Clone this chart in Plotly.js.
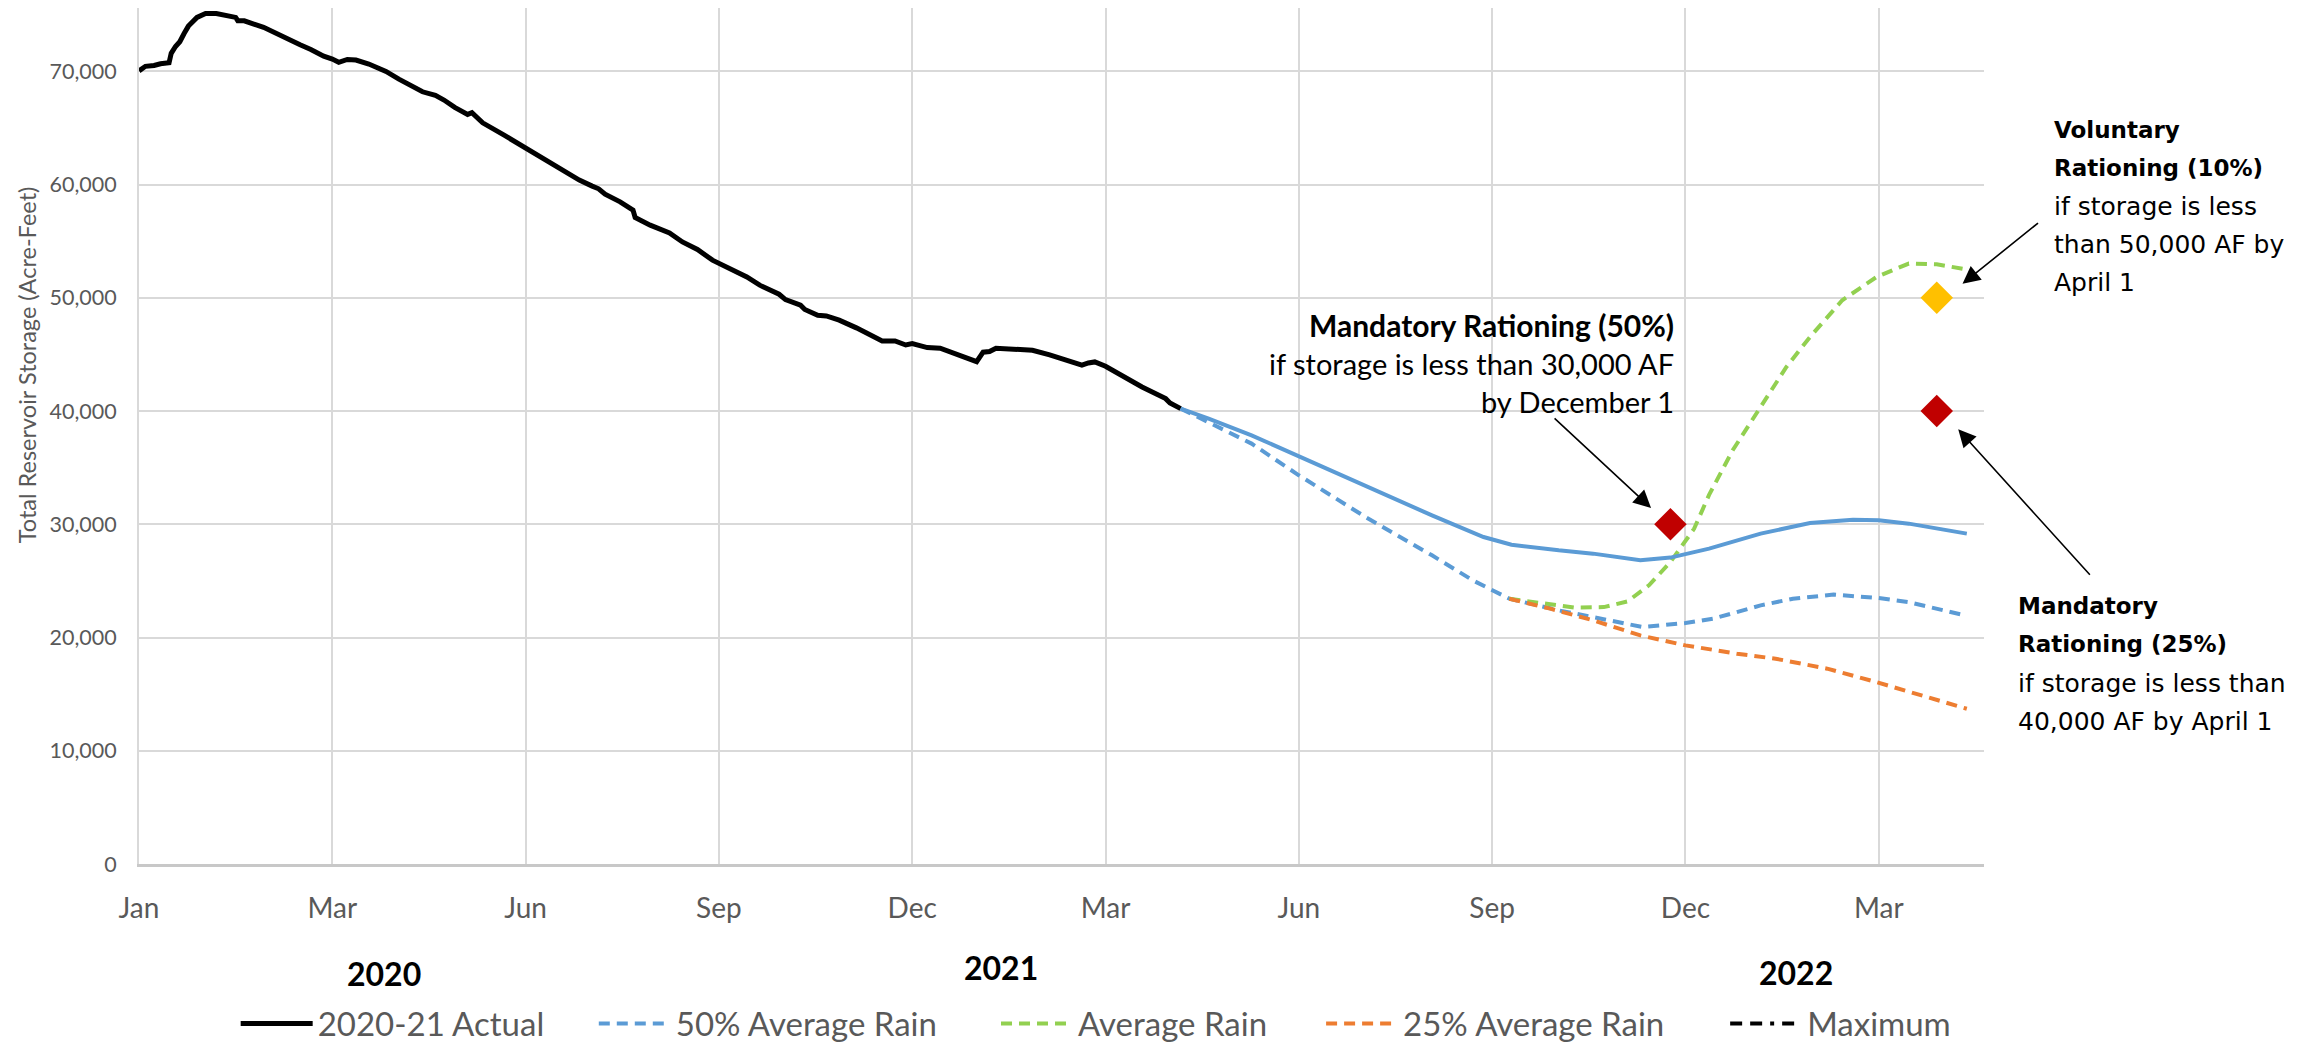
<!DOCTYPE html>
<html>
<head>
<meta charset="utf-8">
<script src="https://cdn.plot.ly/plotly-3.0.1.min.js"></script>
<style>
	html, body { margin: 0; padding: 0; background: #fff; }
	#chart { width: 2318px; height: 1043px; }
</style>
</head>
<body>
<div id="chart"></div>
<script>

// Actual storage 2020-21 (acre-feet)
const actualDates = [
	'2020-01-01', '2020-01-04', '2020-01-08', '2020-01-11', '2020-01-15', '2020-01-16',
	'2020-01-18', '2020-01-20', '2020-01-22', '2020-01-24', '2020-01-28', '2020-02-01',
	'2020-02-06', '2020-02-12', '2020-02-15', '2020-02-16', '2020-02-19', '2020-02-28',
	'2020-03-07', '2020-03-13', '2020-03-16', '2020-03-21', '2020-03-27', '2020-03-31',
	'2020-04-03', '2020-04-07', '2020-04-11', '2020-04-17', '2020-04-25', '2020-05-01',
	'2020-05-08', '2020-05-12', '2020-05-18', '2020-05-22', '2020-05-27', '2020-06-02',
	'2020-06-04', '2020-06-06', '2020-06-09', '2020-06-19', '2020-06-29', '2020-07-10',
	'2020-07-19', '2020-07-24', '2020-07-30', '2020-08-02', '2020-08-05', '2020-08-12',
	'2020-08-18', '2020-08-19', '2020-08-26', '2020-09-02', '2020-09-04', '2020-09-10',
	'2020-09-17', '2020-09-24', '2020-09-30', '2020-10-07', '2020-10-10', '2020-10-16',
	'2020-10-25', '2020-10-28', '2020-11-04', '2020-11-06', '2020-11-12', '2020-11-16',
	'2020-11-22', '2020-11-30', '2020-12-05', '2020-12-12', '2020-12-18', '2020-12-23',
	'2020-12-26', '2021-01-02', '2021-01-08', '2021-01-14', '2021-01-20', '2021-01-25',
	'2021-01-28', '2021-01-31', '2021-02-03', '2021-02-11', '2021-02-20', '2021-02-28',
	'2021-03-08', '2021-03-15', '2021-03-18', '2021-03-21', '2021-03-26', '2021-04-01',
	'2021-04-08', '2021-04-12', '2021-04-23', '2021-04-25', '2021-04-30'
];
const actualStorage = [
	70050, 70450, 70530, 70680, 70760, 71600,
	72200, 72620, 73350, 74000, 74770, 75120,
	75120, 74890, 74770, 74480, 74470, 73890,
	73120, 72530, 72350, 71940, 71350, 71090,
	70800, 71060, 71000, 70650, 70000, 69320,
	68590, 68200, 67880, 67470, 66820, 66200,
	66350, 66000, 65460, 64370, 63220, 62010,
	60990, 60400, 59870, 59630, 59160, 58480,
	57750, 57100, 56420, 55800, 55740, 54940,
	54270, 53330, 52740, 52030, 51850, 51120,
	50320, 49850, 49350, 48970, 48470, 48400,
	48030, 47350, 46850, 46200, 46200, 45840,
	45960, 45610, 45550, 45140, 44670, 44370,
	45200, 45260, 45550, 45440, 45370, 44960,
	44490, 44050, 44250, 44340, 43960, 43310,
	42580, 42130, 41100, 40720, 40220
];

// projection under normal conditions (solid blue, not in legend)
const baseDates = [
	'2021-04-30', '2021-05-13', '2021-06-02', '2021-06-24', '2021-07-25', '2021-08-25',
	'2021-09-18', '2021-10-01', '2021-10-23', '2021-11-08', '2021-11-30', '2021-12-14',
	'2022-01-01', '2022-01-25', '2022-02-17', '2022-03-09', '2022-03-21', '2022-04-04',
	'2022-05-01'
];
const baseStorage = [
	40220, 39340, 37860, 36010, 33360, 30790,
	28880, 28200, 27700, 27410, 26820, 27060,
	27850, 29180, 30120, 30410, 30350, 30060,
	29180
];

// 50% average rain
const halfDates = [
	'2021-04-30', '2021-05-13', '2021-06-02', '2021-06-24', '2021-07-25', '2021-08-25',
	'2021-09-13', '2021-09-30', '2021-10-23', '2021-11-08', '2021-12-01', '2021-12-21',
	'2022-01-03', '2022-01-25', '2022-02-09', '2022-02-28', '2022-03-21', '2022-04-04',
	'2022-04-28'
];
const halfStorage = [
	40220, 39040, 37130, 34330, 30650, 27260,
	25050, 23430, 22400, 21810, 20925, 21280,
	21670, 22840, 23430, 23790, 23490, 23130,
	22050
];

// average rain
const avgDates = [
	'2021-09-30', '2021-10-30', '2021-11-13', '2021-11-24', '2021-12-04', '2021-12-14',
	'2021-12-25', '2022-01-01', '2022-01-12', '2022-01-25', '2022-02-06', '2022-02-17',
	'2022-03-04', '2022-03-20', '2022-04-04', '2022-04-17', '2022-05-01'
];
const avgStorage = [
	23430, 22650, 22690, 23190, 24610, 26670,
	29600, 32600, 36540, 40370, 43900, 46550,
	49790, 51850, 53030, 52970, 52500
];

// 25% average rain
const quarterDates = [
	'2021-09-30', '2021-10-19', '2021-11-08', '2021-11-30', '2021-12-21', '2022-01-14',
	'2022-02-01', '2022-02-25', '2022-03-20', '2022-04-12', '2022-05-01'
];
const quarterStorage = [
	23430, 22550, 21520, 20190, 19310, 18570,
	18130, 17250, 16060, 14740, 13710
];

// rationing trigger points
const triggerDates = [ '2021-12-14', '2022-04-17', '2022-04-17' ];
const triggerStorage = [ 30000, 50000, 40000 ];

// x axis ticks, every 90 days
const tickDates = [
	'2020-01-01', '2020-03-31', '2020-06-29', '2020-09-27', '2020-12-26',
	'2021-03-26', '2021-06-24', '2021-09-22', '2021-12-21', '2022-03-21'
];
const tickLabels = [ 'Jan', 'Mar', 'Jun', 'Sep', 'Dec', 'Mar', 'Jun', 'Sep', 'Dec', 'Mar' ];

const yearLabels = [ '2020', '2021', '2022' ];

const grey = '#595959';
const dash = '11px,7px';

let data = [
	{ x: actualDates, y: actualStorage, name: '2020-21 Actual', type: 'scatter', mode: 'lines',
		legend: 'legend', line: { color: '#000000', width: 5 } },
	{ x: halfDates, y: halfStorage, name: '50% Average Rain', type: 'scatter', mode: 'lines',
		legend: 'legend2', line: { color: '#5B9BD5', width: 4, dash: dash } },
	{ x: avgDates, y: avgStorage, name: 'Average Rain', type: 'scatter', mode: 'lines',
		legend: 'legend3', line: { color: '#92D050', width: 4, dash: dash } },
	{ x: quarterDates, y: quarterStorage, name: '25% Average Rain', type: 'scatter', mode: 'lines',
		legend: 'legend4', line: { color: '#ED7D31', width: 4, dash: dash } },
	{ x: [ '2020-01-01' ], y: [ null ], name: 'Maximum', type: 'scatter', mode: 'lines',
		legend: 'legend5', line: { color: '#000000', width: 4, dash: '12px,8px,12px,8px,4px,8px' } },
	{ x: baseDates, y: baseStorage, name: 'Projection', type: 'scatter', mode: 'lines', showlegend: false,
		line: { color: '#5B9BD5', width: 4 } },
	{ x: triggerDates, y: triggerStorage, name: 'Triggers', type: 'scatter', mode: 'markers', showlegend: false,
		marker: { symbol: 'diamond', size: 25, color: [ '#C00000', '#FFC000', '#C00000' ] } }
];

const noteFont = { family: 'Lato, sans-serif', size: 29, color: '#000000' };
const noteBold = { family: 'Lato, sans-serif', size: 30, color: '#000000' };
const sideFont = { family: '"DejaVu Sans", sans-serif', size: 25, color: '#000000' };
const sideBold = { family: '"DejaVu Sans", sans-serif', size: 23, color: '#000000' };
const yearFont = { family: 'Lato, sans-serif', size: 32, color: '#000000' };

function note( text, x, y, xanchor, font ) {
	return { text: text, xref: 'paper', yref: 'paper', x: x, y: y,
		xanchor: xanchor, yanchor: 'middle', showarrow: false, font: font };
}

function arrow( x, y, ax, ay ) {
	return { text: '', x: x, y: y, xref: 'x', yref: 'y', ax: ax, ay: ay,
		showarrow: true, arrowhead: 2, arrowsize: 2.2, arrowwidth: 1.6, arrowcolor: '#000000' };
}

let annotations = [
	{ text: 'Total Reservoir Storage (Acre-Feet)', textangle: -90,
		xref: 'paper', yref: 'paper', x: -0.0607, y: 0.5827,
		xanchor: 'center', yanchor: 'middle', showarrow: false,
		font: { family: 'Lato, sans-serif', size: 23.5, color: grey } },
	note( '<b>' + yearLabels[ 0 ] + '</b>', 0.1327, -0.128, 'center', yearFont ),
	note( '<b>' + yearLabels[ 1 ] + '</b>', 0.4671, -0.121, 'center', yearFont ),
	note( '<b>' + yearLabels[ 2 ] + '</b>', 0.8981, -0.1268, 'center', yearFont ),
	note( '<b>Mandatory Rationing (50%)</b>', 0.8331, 0.6295, 'right', noteBold ),
	note( 'if storage is less than 30,000 AF', 0.8331, 0.5847, 'right', noteFont ),
	note( 'by December 1', 0.8331, 0.5398, 'right', noteFont ),
	note( '<b>Voluntary</b>', 1.0368, 0.8574, 'left', sideBold ),
	note( '<b>Rationing (10%)</b>', 1.0368, 0.8129, 'left', sideBold ),
	note( 'if storage is less', 1.0368, 0.7679, 'left', sideFont ),
	note( 'than 50,000 AF by', 1.0368, 0.7233, 'left', sideFont ),
	note( 'April 1', 1.0368, 0.6795, 'left', sideFont ),
	note( '<b>Mandatory</b>', 1.0171, 0.3013, 'left', sideBold ),
	note( '<b>Rationing (25%)</b>', 1.0171, 0.2568, 'left', sideBold ),
	note( 'if storage is less than', 1.0171, 0.2113, 'left', sideFont ),
	note( '40,000 AF by April 1', 1.0171, 0.1669, 'left', sideFont ),
	arrow( '2021-12-05', 31440, -98, -91 ),
	arrow( '2022-04-29', 51240, 77, -62 ),
	arrow( '2022-04-27', 38390, 133, 147 )
];

function legendAt( x ) {
	return {
		orientation: 'h', x: x, xanchor: 'left', y: -0.1864, yanchor: 'middle',
		itemwidth: 72, bgcolor: 'rgba(0,0,0,0)',
		font: { family: 'Lato, sans-serif', size: 33, color: grey }
	};
}

let layout = {
	width: 2318, height: 1043,
	margin: { l: 139, r: 334, t: 8, b: 179, autoexpand: false },
	paper_bgcolor: '#ffffff', plot_bgcolor: '#ffffff',
	font: { family: 'Lato, sans-serif', color: grey },
	showlegend: true,
	xaxis: {
		type: 'date', range: [ '2020-01-01', '2022-05-09' ],
		tickmode: 'array', tickvals: tickDates, ticktext: tickLabels,
		ticks: '', ticklabelstandoff: 17, tickfont: { size: 28, color: grey },
		showgrid: true, gridcolor: '#D9D9D9', gridwidth: 2,
		showline: true, linecolor: '#C8C8C8', linewidth: 3, zeroline: false
	},
	yaxis: {
		range: [ 0, 75600 ], dtick: 10000, tickformat: ',d',
		ticks: '', ticklabelstandoff: 16, tickfont: { size: 21.5, color: grey },
		showgrid: true, gridcolor: '#D9D9D9', gridwidth: 2,
		showline: true, linecolor: '#D9D9D9', linewidth: 2, zeroline: false
	},
	legend: legendAt( 0.0524 ),
	legend2: legendAt( 0.2465 ),
	legend3: legendAt( 0.4645 ),
	legend4: legendAt( 0.6407 ),
	legend5: legendAt( 0.8597 ),
	annotations: annotations
};

Plotly.newPlot( 'chart', data, layout, { staticPlot: true } );

</script>
</body>
</html>
